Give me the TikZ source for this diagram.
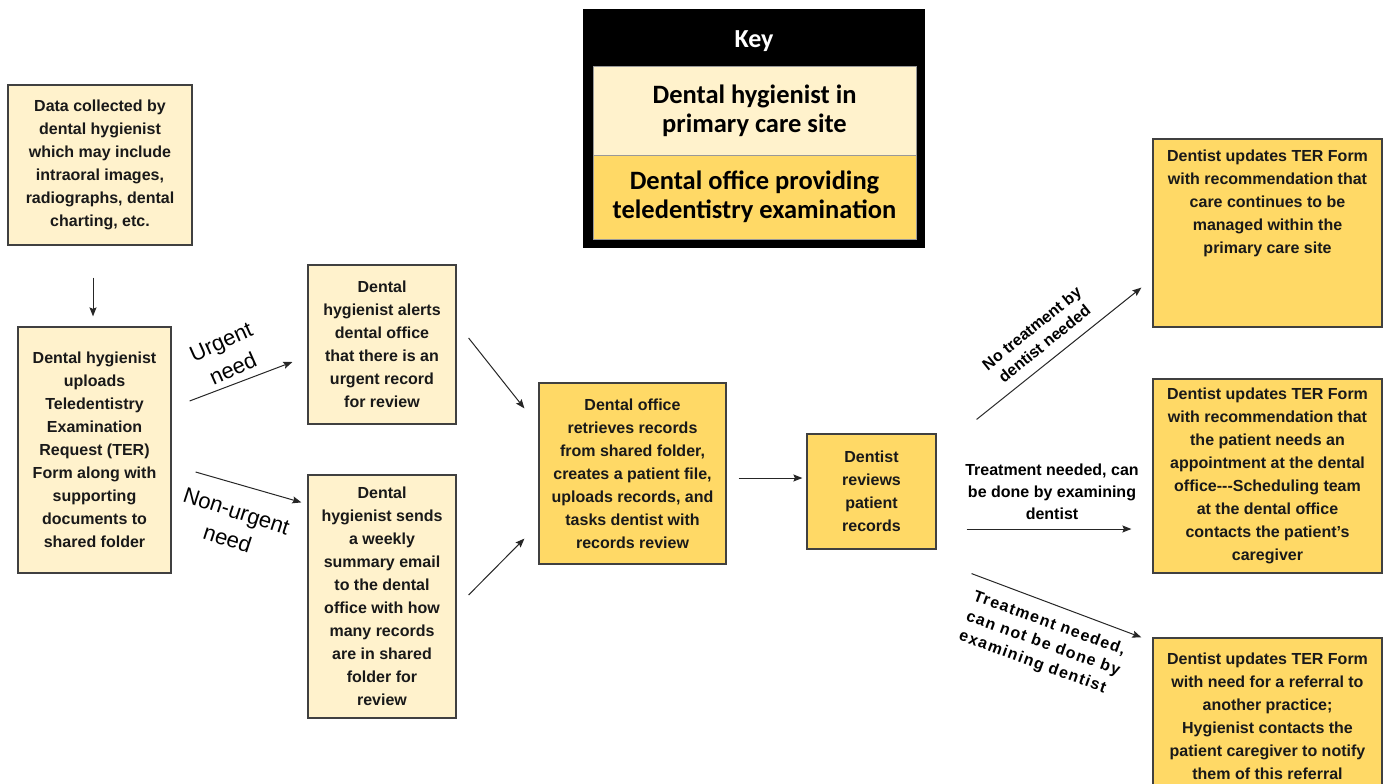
\documentclass[tikz,border=0pt]{standalone}
\usepackage{fontspec}
\setmainfont{Liberation Sans}
\newfontfamily\keyfont{Carlito}
\usetikzlibrary{arrows.meta, positioning, calc}
\definecolor{paleGold}{HTML}{FFF2CC}
\definecolor{deepGold}{HTML}{FFD966}
\definecolor{boxEdge}{HTML}{404040}
\tikzset{
    hygBox/.style={draw=boxEdge, fill=paleGold, line width=1.2pt, align=center, inner sep=0pt,
        text=black!90, font=\bfseries\fontsize{16}{23}\selectfont},
    offBox/.style={hygBox, fill=deepGold},
    keyBox/.style={draw=black!40, line width=0.8pt, inner sep=0pt, align=center,
        minimum width=323, font=\keyfont\bfseries\fontsize{26.5}{29}\selectfont},
    flow/.style={draw=black!85, line width=1pt, -{Stealth[length=9pt, width=7pt, inset=1.5pt]}},
    branchTxt/.style={align=center, font=\fontsize{22}{29}\selectfont},
    choiceTxt/.style={align=center, font=\bfseries\fontsize{16}{20}\selectfont}
}
\begin{document}
\begin{tikzpicture}[x=1pt, y=-1pt]
    \useasboundingbox (0,0) rectangle (1387,784);
    % key
    \node[fill=black, minimum width=342, minimum height=239, inner sep=0pt] (keyFrame) at (754,128.5) {};
    \node[text=white, font=\keyfont\bfseries\fontsize{26}{30}\selectfont] (keyTitle) at (754,41) {Key};
    \node[keyBox, fill=paleGold, minimum height=89] (keyHyg) at (754.5,110.5) {Dental hygienist in\\primary care site};
    \node[keyBox, fill=deepGold, minimum height=84] (keyOff) at (754.5,197) {Dental office providing\\teledentistry examination};
    % hygienist side
    \node[hygBox, minimum width=184, minimum height=160] (data) at (100,165)
        {Data collected by\\dental hygienist\\which may include\\intraoral images,\\radiographs, dental\\charting, etc.};
    \node[hygBox, minimum width=153, minimum height=246] (upl) at (94.5,450)
        {Dental hygienist\\uploads\\Teledentistry\\Examination\\Request (TER)\\Form along with\\supporting\\documents to\\shared folder};
    \node[hygBox, minimum width=148, minimum height=159] (alert) at (382,344.5)
        {Dental\\hygienist alerts\\dental office\\that there is an\\urgent record\\for review};
    \node[hygBox, minimum width=148, minimum height=243] (weekly) at (382,596.5)
        {Dental\\hygienist sends\\a weekly\\summary email\\to the dental\\office with how\\many records\\are in shared\\folder for\\review};
    % dental office side
    \node[offBox, minimum width=187, minimum height=181] (retr) at (632.5,473.5)
        {Dental office\\retrieves records\\from shared folder,\\creates a patient file,\\uploads records, and\\tasks dentist with\\records review};
    \node[offBox, minimum width=129, minimum height=115] (rev) at (871.5,491.5)
        {Dentist\\reviews\\patient\\records};
    \node[offBox, minimum width=229, minimum height=188] (keepBox) at (1267.5,233) {};
    \node[align=center, text=black!90, font=\bfseries\fontsize{16}{23}\selectfont] (keepTxt) at (1267.5,203)
        {Dentist updates TER Form\\with recommendation that\\care continues to be\\managed within the\\primary care site};
    \node[offBox, minimum width=229, minimum height=194] (apptBox) at (1267.5,476)
        {Dentist updates TER Form\\with recommendation that\\the patient needs an\\appointment at the dental\\office{-}{-}{-}Scheduling team\\at the dental office\\contacts the patient's\\caregiver};
    \node[offBox, minimum width=229, minimum height=156] (referBox) at (1267.5,716)
        {Dentist updates TER Form\\with need for a referral to\\another practice;\\Hygienist contacts the\\patient caregiver to notify\\them of this referral};
    % connectors
    \draw[flow] ([shift={(-7,32)}]data.south) -- ([shift={(-1.5,-10)}]upl.north);
    \draw[flow] ([shift={(18,-49)}]upl.east) -- ([shift={(-15,17.5)}]alert.west);
    \draw[flow] ([shift={(24,22)}]upl.east) -- ([shift={(-6,28)}]weekly.north west);
    \draw[flow] ([shift={(12,-6.5)}]alert.east) -- ([shift={(-14,26)}]retr.north west);
    \draw[flow] ([shift={(12,-1.5)}]weekly.east) -- ([shift={(-14,-26)}]retr.south west);
    \draw[flow] ([shift={(12,4.5)}]retr.east) -- ([shift={(-4,-13.5)}]rev.west);
    \draw[flow] ([shift={(40,-14)}]rev.north east) -- ([shift={(-11,-40)}]keepBox.south west);
    \draw[flow] ([shift={(30,37.5)}]rev.east) -- ([shift={(-21,53)}]apptBox.west);
    \draw[flow] ([shift={(35,24)}]rev.south east) -- ([shift={(-11,0)}]referBox.north west);
    % branch labels
    \node[branchTxt, rotate=24] (urgentLbl) at (227,355) {Urgent\\need};
    \node[branchTxt, rotate=-18] (routineLbl) at (232,525) {Non-urgent\\need};
    \node[choiceTxt, font=\bfseries\fontsize{16}{20}\selectfont, rotate=39] (noTreatLbl) at (1038,336) {No treatment by\\dentist needed};
    \node[choiceTxt, font=\bfseries\fontsize{16}{22}\selectfont] (treatLbl) at (1052,492) {Treatment needed, can\\be done by examining\\dentist};
    \node[choiceTxt, align=left, font=\bfseries\fontsize{16}{21}\selectfont\addfontfeatures{LetterSpace=8}, rotate=-20] (referLbl) at (1043,644) {Treatment needed,\\can not be done by\\examining dentist};
\end{tikzpicture}
\end{document}
